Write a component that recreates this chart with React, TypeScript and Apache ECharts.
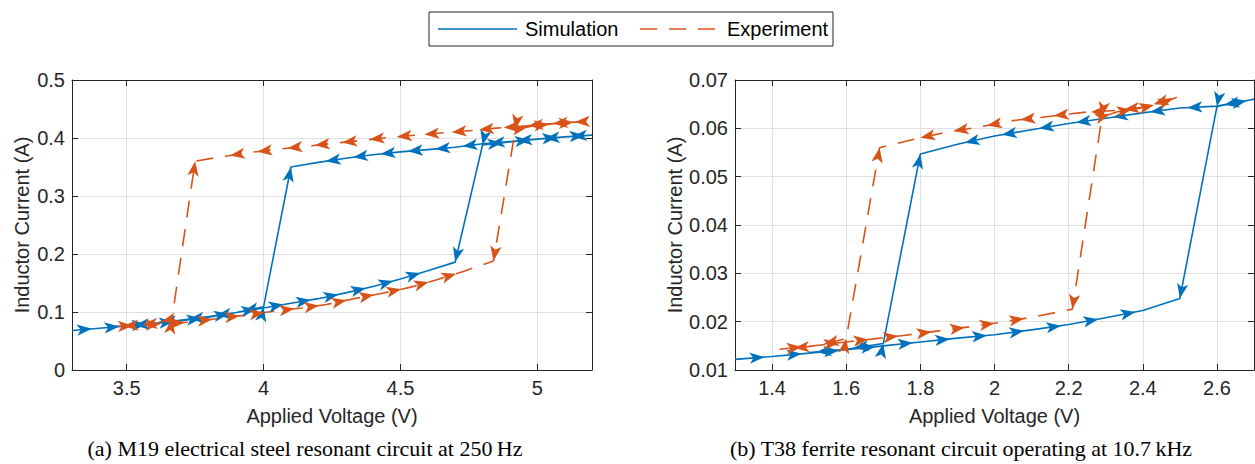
import React, { useEffect, useRef } from "react";
import * as echarts from "echarts";

// ---------- Data (traversal order: voltage rising, then falling) ----------
// (a) M19 electrical steel resonant circuit at 250 Hz
const simA_V = [3.3, 3.4, 3.5, 3.6, 3.7, 3.8, 3.9, 4.0, 4.1, 4.2, 4.3, 4.4, 4.5, 4.6, 4.7, 4.8, 4.9, 5.0, 5.1, 5.2,
  5.1, 5.0, 4.9, 4.8, 4.7, 4.6, 4.5, 4.4, 4.3, 4.2, 4.1, 4.0, 3.9, 3.8, 3.7, 3.6, 3.5];
const simA_I = [0.068, 0.072, 0.076, 0.080, 0.085, 0.091, 0.099, 0.107, 0.115, 0.123, 0.133, 0.144, 0.157, 0.171, 0.186, 0.388, 0.393, 0.398, 0.402, 0.405,
  0.402, 0.398, 0.394, 0.390, 0.384, 0.380, 0.376, 0.371, 0.365, 0.358, 0.350, 0.109, 0.099, 0.092, 0.086, 0.080, 0.076];

const expA_V = [3.45, 3.55, 3.65, 3.74, 3.84, 3.94, 4.03, 4.14, 4.23, 4.33, 4.43, 4.53, 4.63, 4.73, 4.84, 4.92, 4.99, 5.07, 5.16,
  5.11, 5.03, 4.94, 4.85, 4.76, 4.66, 4.56, 4.46, 4.36, 4.26, 4.16, 4.06, 3.95, 3.85, 3.75, 3.665, 3.6, 3.53, 3.46];
const expA_I = [0.075, 0.077, 0.080, 0.083, 0.089, 0.095, 0.101, 0.107, 0.113, 0.123, 0.132, 0.142, 0.155, 0.170, 0.188, 0.415, 0.421, 0.425, 0.428,
  0.427, 0.424, 0.420, 0.417, 0.413, 0.409, 0.405, 0.401, 0.396, 0.391, 0.386, 0.381, 0.375, 0.368, 0.360, 0.088, 0.080, 0.077, 0.075];

// (b) T38 ferrite resonant circuit operating at 10.7 kHz
const simB_V = [1.3, 1.4, 1.5, 1.6, 1.7, 1.8, 1.9, 2.0, 2.1, 2.2, 2.3, 2.4, 2.5, 2.6, 2.7,
  2.6, 2.5, 2.4, 2.3, 2.2, 2.1, 2.0, 1.9, 1.8, 1.7, 1.6, 1.5];
const simB_I = [0.0122, 0.0128, 0.0135, 0.0142, 0.0150, 0.0158, 0.0166, 0.0173, 0.0183, 0.0194, 0.0208, 0.0223, 0.0248, 0.0645, 0.0660,
  0.0646, 0.0642, 0.0632, 0.0621, 0.0610, 0.0597, 0.0584, 0.0567, 0.0547, 0.0155, 0.0143, 0.0136];

const expB_V = [1.42, 1.50, 1.60, 1.68, 1.76, 1.85, 1.94, 2.02, 2.10, 2.21, 2.29, 2.33, 2.39, 2.45, 2.50,
  2.41, 2.33, 2.24, 2.14, 2.05, 1.96, 1.87, 1.78, 1.69, 1.60, 1.52, 1.44];
const expB_I = [0.0143, 0.0149, 0.0158, 0.0165, 0.0172, 0.0181, 0.0190, 0.0199, 0.0209, 0.0226, 0.0624, 0.0634, 0.0641, 0.0652, 0.0667,
  0.0645, 0.0637, 0.0633, 0.0624, 0.0616, 0.0603, 0.0592, 0.0577, 0.0560, 0.0165, 0.0150, 0.0144];

const SERIES_NAMES = ["Simulation", "Experiment"];
const X_NAME = "Applied Voltage (V)";
const Y_NAME = "Inductor Current (A)";
const CAPTION_A = "(a) M19 electrical steel resonant circuit at 250\u2009Hz";
const CAPTION_B = "(b) T38 ferrite resonant circuit operating at 10.7\u2009kHz";

// ---------- Style / layout ----------
const BLUE = "#0072BD";
const ORANGE = "#D95319";
const AX = "#262626";
const GRIDC = "#e0e0e0";
const SANS = "'Liberation Sans', Arial, Helvetica, sans-serif";
const SERIF = "'Liberation Serif', 'Times New Roman', serif";
const DASH = [17, 12];
const ARROW = [8.5, 15];

const GA = { left: 72, top: 80, width: 520, height: 290, xmin: 3.3, xmax: 5.2, ymin: 0, ymax: 0.5 };
const GB = { left: 735, top: 80, width: 519, height: 290, xmin: 1.3, xmax: 2.7, ymin: 0.01, ymax: 0.07 };

function arrowData(xs: number[], ys: number[], g: any) {
  const sx = g.width / (g.xmax - g.xmin);
  const sy = g.height / (g.ymax - g.ymin);
  const n = xs.length;
  const seg = (a: number, b: number) => [(xs[b] - xs[a]) * sx, (ys[b] - ys[a]) * sy];
  const isJump = (d: number[]) => Math.abs(d[1]) > 2 * Math.abs(d[0]);
  return xs.map((x, i) => {
    if (i === 0) return { value: [x, ys[i]], symbol: "none" };
    const inc = seg(i - 1, i);
    const out = i < n - 1 ? seg(i, i + 1) : null;
    let d: number[];
    let jump = false;
    if (out && isJump(out)) { d = [-out[0], -out[1]]; jump = true; }
    else if (isJump(inc)) { d = [-inc[0], -inc[1]]; jump = true; }
    else d = inc;
    const len = Math.hypot(d[0], d[1]) || 1;
    const ux = d[0] / len, uyScreen = -d[1] / len;
    const ang = (Math.atan2(d[1], d[0]) * 180) / Math.PI;
    const back = jump ? 0 : ARROW[1] / 2;
    return { value: [x, ys[i]], symbolRotate: ang - 90, symbolOffset: [-back * ux, -back * uyScreen] };
  });
}

function isMultiple(v: number, step: number) {
  const k = v / step;
  return Math.abs(k - Math.round(k)) < 1e-6;
}

export default function App() {
  const ref = useRef<HTMLDivElement>(null);
  useEffect(() => {
    if (!ref.current) return;
    const chart = echarts.init(ref.current, undefined, { renderer: "svg" });

    const labelStyle = { fontSize: 20, color: AX, fontFamily: SANS };
    const nameStyle = { fontSize: 20, color: AX, fontFamily: SANS };
    const axisLine = { show: true, onZero: false, lineStyle: { color: AX, width: 1 } };
    const tick = { show: true, inside: true, length: 6, lineStyle: { color: AX, width: 1 } };
    const split = { show: true, lineStyle: { color: GRIDC, width: 1 } };

    const xMain = (g: any, gridIndex: number, splitNumber: number, step: number) => ({
      type: "value", gridIndex, min: g.xmin, max: g.xmax, splitNumber, position: "bottom",
      axisLine, axisTick: tick, splitLine: split,
      axisLabel: {
        ...labelStyle, margin: 8, showMinLabel: false, showMaxLabel: false,
        formatter: (v: number) => (isMultiple(v, step) ? String(+v.toFixed(2)) : ""),
      },
      name: X_NAME, nameLocation: "middle", nameGap: 36, nameTextStyle: nameStyle,
    });
    const xTop = (g: any, gridIndex: number, splitNumber: number) => ({
      type: "value", gridIndex, min: g.xmin, max: g.xmax, splitNumber, position: "top",
      axisLine, axisTick: tick, splitLine: { show: false }, axisLabel: { show: false },
    });
    const yMain = (g: any, gridIndex: number, interval: number, digits: number, gap: number) => ({
      type: "value", gridIndex, min: g.ymin, max: g.ymax, interval, position: "left",
      axisLine, axisTick: tick, splitLine: split,
      axisLabel: {
        ...labelStyle, margin: 7, showMinLabel: true, showMaxLabel: true,
        formatter: (v: number) => (digits === 1 ? String(+v.toFixed(1)) : v.toFixed(digits)),
      },
      name: Y_NAME, nameLocation: "middle", nameGap: gap, nameTextStyle: nameStyle,
    });
    const yRight = (g: any, gridIndex: number, interval: number) => ({
      type: "value", gridIndex, min: g.ymin, max: g.ymax, interval, position: "right",
      axisLine, axisTick: tick, splitLine: { show: false }, axisLabel: { show: false },
    });

    const mkSeries = (name: string, xs: number[], ys: number[], g: any, axisIdx: number, color: string, dashed: boolean) => ({
      name, type: "line", xAxisIndex: axisIdx, yAxisIndex: axisIdx,
      data: arrowData(xs, ys, g),
      symbol: "arrow", symbolSize: ARROW, showSymbol: true,
      lineStyle: { color, width: 1.6, type: dashed ? DASH : "solid" },
      itemStyle: { color },
      clip: true, silent: true,
    });

    const legendX = 429, legendY = 12, legendW = 404, legendH = 34;
    const ly = legendY + legendH / 2;
    const txt = (x: number, y: number, text: string, font: string, align: string) => ({
      type: "text", x, y,
      style: { text, font, fill: "#000", textAlign: align, textVerticalAlign: "middle", align, verticalAlign: "middle" },
    });

    chart.setOption({
      animation: false,
      backgroundColor: "#fff",
      grid: [
        { left: GA.left, top: GA.top, width: GA.width, height: GA.height, containLabel: false, outerBoundsMode: "none" },
        { left: GB.left, top: GB.top, width: GB.width, height: GB.height, containLabel: false, outerBoundsMode: "none" },
      ],
      xAxis: [xMain(GA, 0, 4, 0.5), xTop(GA, 0, 4), xMain(GB, 1, 7, 0.2), xTop(GB, 1, 7)],
      yAxis: [yMain(GA, 0, 0.1, 1, 40), yRight(GA, 0, 0.1), yMain(GB, 1, 0.01, 2, 50), yRight(GB, 1, 0.01)],
      series: [
        mkSeries(SERIES_NAMES[0], simA_V, simA_I, GA, 0, BLUE, false),
        mkSeries(SERIES_NAMES[1], expA_V, expA_I, GA, 0, ORANGE, true),
        mkSeries(SERIES_NAMES[0], simB_V, simB_I, GB, 2, BLUE, false),
        mkSeries(SERIES_NAMES[1], expB_V, expB_I, GB, 2, ORANGE, true),
      ],
      graphic: [
        { type: "rect", shape: { x: legendX, y: legendY, width: legendW, height: legendH }, style: { fill: "#fff", stroke: AX, lineWidth: 1 } },
        { type: "line", shape: { x1: 438, y1: ly, x2: 517, y2: ly }, style: { stroke: BLUE, lineWidth: 1.6 } },
        txt(525, ly, SERIES_NAMES[0], `20px ${SANS}`, "left"),
        { type: "line", shape: { x1: 640, y1: ly, x2: 718, y2: ly }, style: { stroke: ORANGE, lineWidth: 1.6, lineDash: DASH } },
        txt(727, ly, SERIES_NAMES[1], `20px ${SANS}`, "left"),
        txt(305, 448, CAPTION_A, `22px ${SERIF}`, "center"),
        txt(961, 448, CAPTION_B, `22px ${SERIF}`, "center"),
      ],
    });
    return () => chart.dispose();
  }, []);
  return <div ref={ref} style={{ position: "absolute", left: 0, top: 0, width: 1255, height: 464 }} />;
}
